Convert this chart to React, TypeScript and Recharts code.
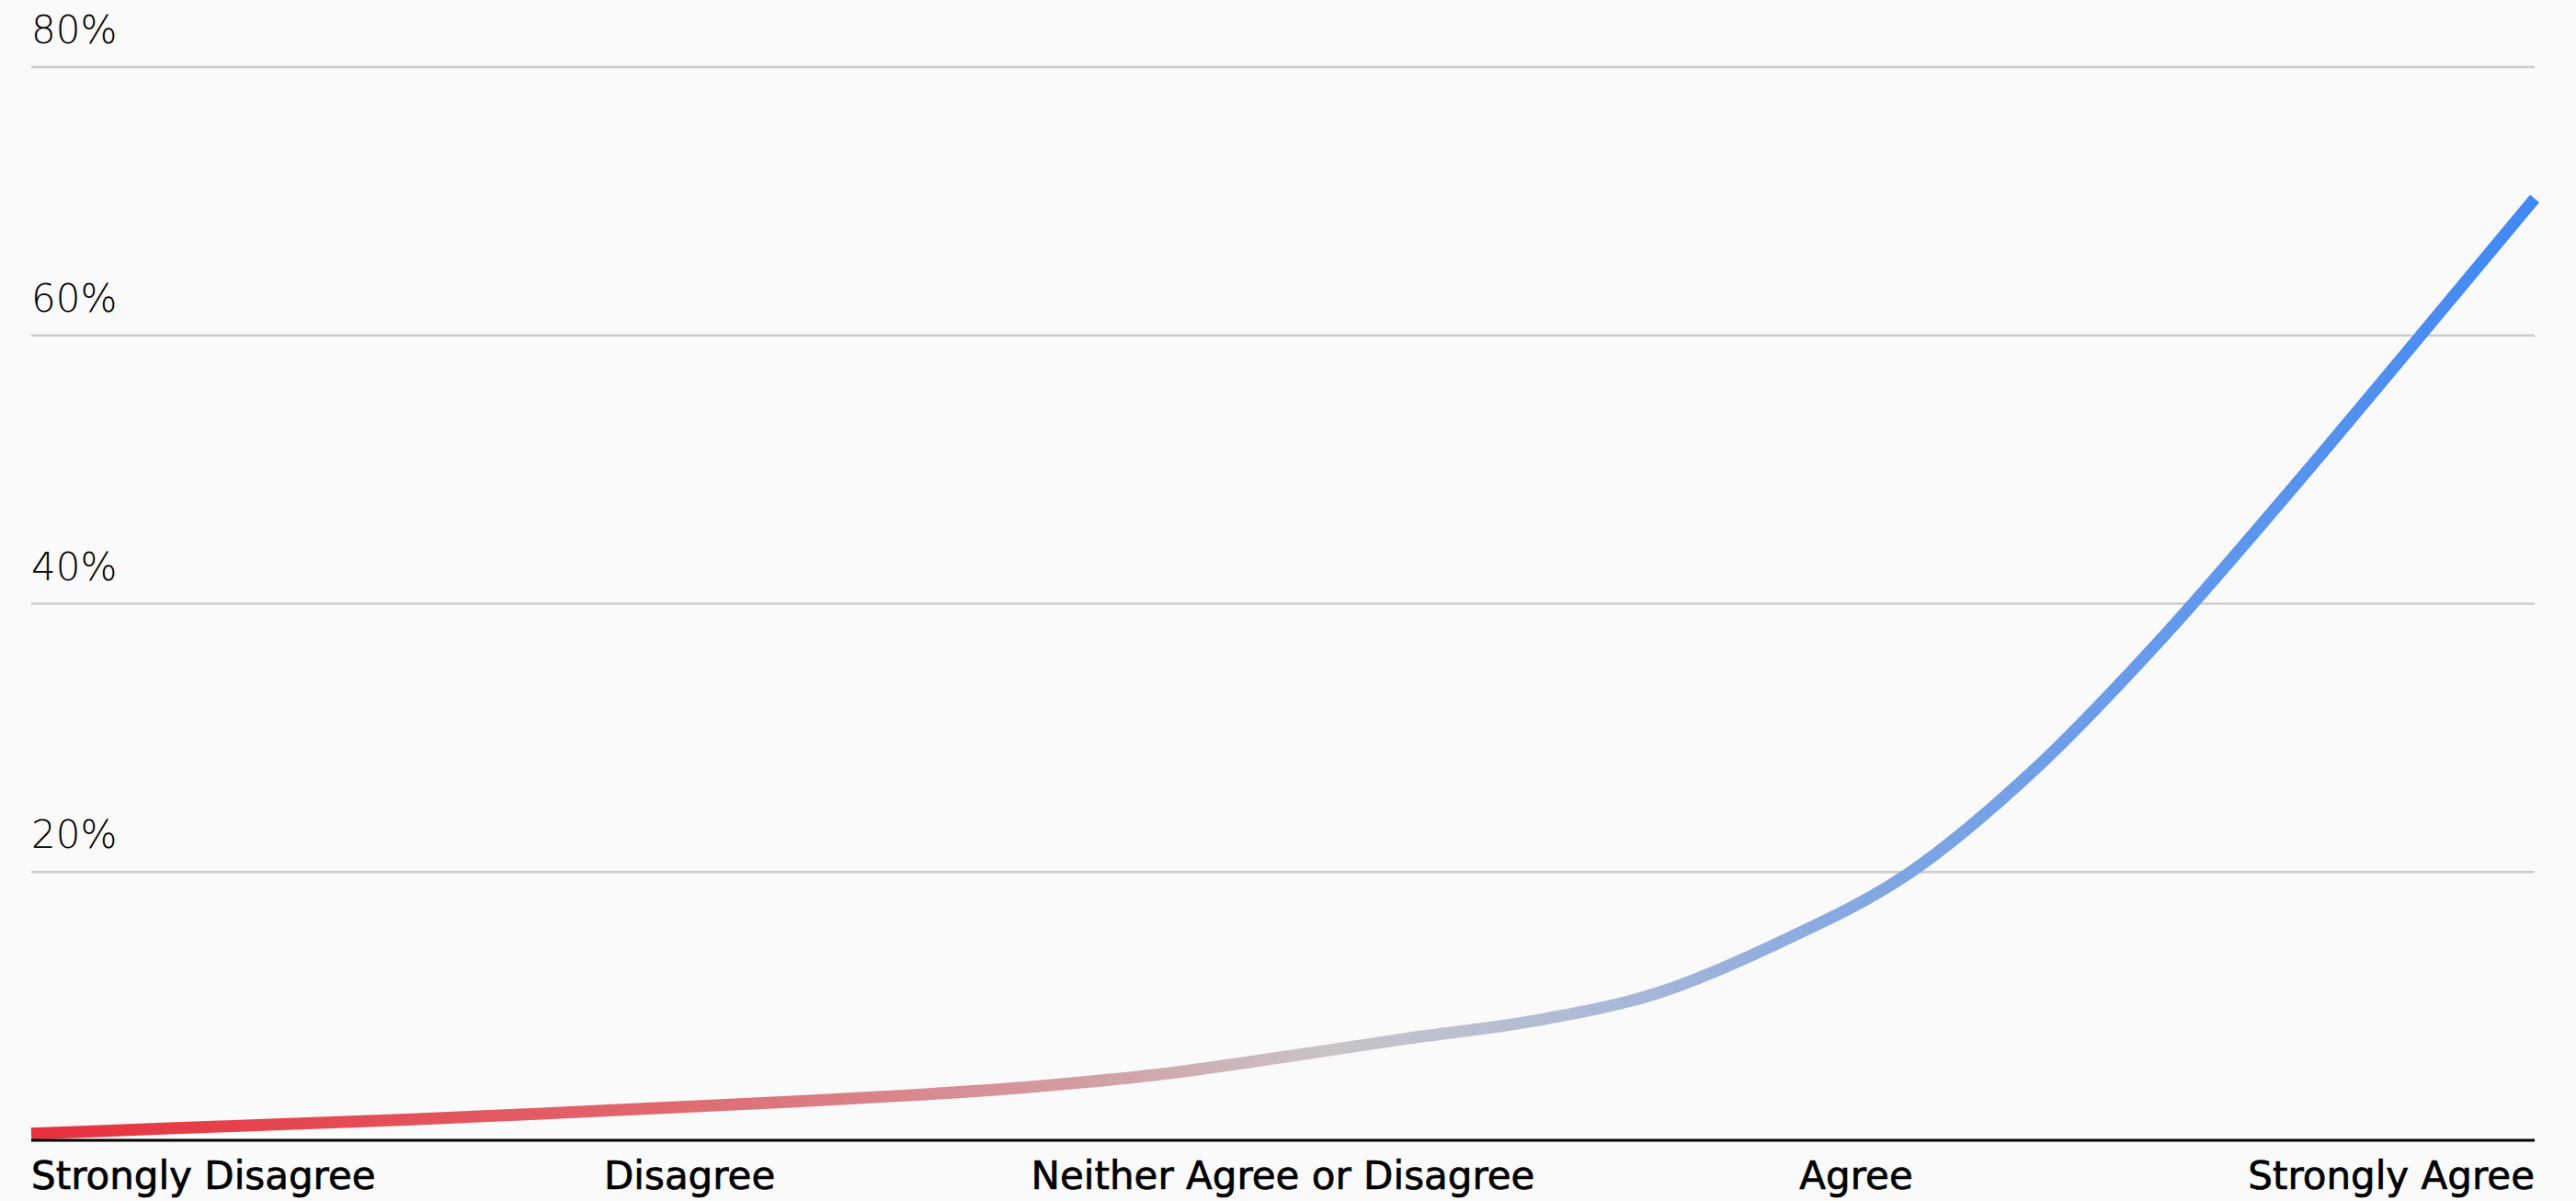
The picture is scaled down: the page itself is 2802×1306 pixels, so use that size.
import React, { useEffect } from "react";
import { LineChart, Line, XAxis, YAxis, CartesianGrid } from "recharts";

// Position along the response scale (0 = Strongly Disagree, 100 = Strongly Agree)
const positions = [0, 5, 10, 15, 20, 25, 30, 35, 40, 45, 50, 55, 60, 65, 70, 75, 80, 85, 90, 95, 100];
// Share of respondents (%)
const shares = [0.5, 0.85, 1.2, 1.55, 1.95, 2.4, 2.85, 3.35, 4.0, 4.9, 6.2, 7.6, 8.9, 11.0, 14.9, 19.9, 27.6, 37.2, 47.9, 59.0, 70.2];

const categoryTicks = [0, 26.3, 50, 72.9, 100];
const categoryLabels = ["Strongly Disagree", "Disagree", "Neither Agree or Disagree", "Agree", "Strongly Agree"];
const yTicks = [0, 20, 40, 60, 80];

const data = positions.map((p, i) => ({ pos: p, share: shares[i] }));

const XTick = (props: any) => {
  const { x, y, payload, index } = props;
  const idx = categoryTicks.indexOf(payload.value);
  const label = categoryLabels[idx >= 0 ? idx : index];
  const anchor = idx === 0 ? "start" : idx === categoryTicks.length - 1 ? "end" : "middle";
  return (
    <text
      x={x}
      y={y}
      dy={45}
      textAnchor={anchor}
      fill="#000"
      stroke="#000"
      strokeWidth={0.7}
      fontFamily="'DejaVu Sans', sans-serif"
      fontWeight={400}
      fontSize={42}
    >
      {label}
    </text>
  );
};

const YTick = (props: any) => {
  const { x, y, payload } = props;
  if (payload.value === 0) return null;
  return (
    <text x={x} y={y} dy={-26} textAnchor="start" fill="#000" fontFamily="'DejaVu Sans', sans-serif" fontWeight={200} fontSize={42}>
      {payload.value}%
    </text>
  );
};

export default function App() {
  useEffect(() => {
    document.body.style.margin = "0";
    document.body.style.background = "#fafafa";
  }, []);
  return (
    <div style={{ width: 2802, height: 1306, background: "#fafafa" }}>
      <LineChart width={2802} height={1306} data={data} margin={{ top: 73, right: 45, bottom: 6, left: 0 }}>
        <defs>
          <linearGradient id="lineGrad" x1="0" y1="0" x2="1" y2="0">
            <stop offset="0%" stopColor="#e8303c" />
            <stop offset="25%" stopColor="#e0676f" />
            <stop offset="42%" stopColor="#d29ea3" />
            <stop offset="52%" stopColor="#c9c4c8" />
            <stop offset="62%" stopColor="#aebad6" />
            <stop offset="75%" stopColor="#7da5e4" />
            <stop offset="100%" stopColor="#4088f5" />
          </linearGradient>
        </defs>
        <CartesianGrid vertical={false} stroke="#cccccc" strokeWidth={2.5} />
        <XAxis
          dataKey="pos"
          type="number"
          domain={[0, 100]}
          ticks={categoryTicks}
          interval={0}
          height={60}
          axisLine={{ stroke: "#000", strokeWidth: 3 }}
          tickLine={false}
          tick={<XTick />}
        />
        <YAxis
          type="number"
          domain={[0, 80]}
          ticks={yTicks}
          interval={0}
          width={34}
          tickSize={0}
          tickMargin={0}
          axisLine={false}
          tickLine={false}
          tick={<YTick />}
        />
        <Line
          type="monotone"
          dataKey="share"
          stroke="url(#lineGrad)"
          strokeWidth={13}
          dot={false}
          activeDot={false}
          isAnimationActive={false}
        />
      </LineChart>
    </div>
  );
}
